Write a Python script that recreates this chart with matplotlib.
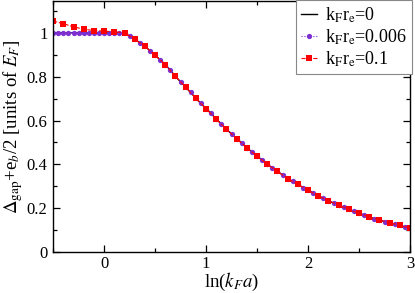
import matplotlib
matplotlib.use('Agg')
import matplotlib.pyplot as plt
from matplotlib.ticker import MultipleLocator

plt.rcParams['font.family'] = ['Liberation Serif', 'DejaVu Serif']
plt.rcParams['mathtext.fontset'] = 'stix'

# k_F r_e = 0.1 (red squares), step 0.1 in ln(k_F a)
x_red = [-0.5, -0.4, -0.3, -0.2, -0.1, 0.0, 0.1, 0.2, 0.3, 0.4, 0.5, 0.6, 0.7,
         0.8, 0.9, 1.0, 1.1, 1.2, 1.3, 1.4, 1.5, 1.6, 1.7, 1.8, 1.9, 2.0, 2.1,
         2.2, 2.3, 2.4, 2.5, 2.6, 2.7, 2.8, 2.9, 3.0]
y_red = [1.053, 1.041, 1.027, 1.016, 1.010, 1.007, 1.004, 1.0, 0.970, 0.938,
         0.897, 0.855, 0.801, 0.751, 0.701, 0.654, 0.606, 0.560, 0.518, 0.475,
         0.438, 0.401, 0.368, 0.336, 0.309, 0.283, 0.257, 0.235, 0.215, 0.195,
         0.177, 0.160, 0.147, 0.135, 0.123, 0.110]

# k_F r_e = 0.006 (violet circles) and k_F r_e = 0 (black line), step 0.05
x_vio = [-0.5, -0.45, -0.4, -0.35, -0.3, -0.25, -0.2, -0.15, -0.1, -0.05, 0.0,
         0.05, 0.1, 0.15, 0.2, 0.25, 0.3, 0.35, 0.4, 0.45, 0.5, 0.55, 0.6, 0.65,
         0.7, 0.75, 0.8, 0.85, 0.9, 0.95, 1.0, 1.05, 1.1, 1.15, 1.2, 1.25, 1.3,
         1.35, 1.4, 1.45, 1.5, 1.55, 1.6, 1.65, 1.7, 1.75, 1.8, 1.85, 1.9, 1.95,
         2.0, 2.05, 2.1, 2.15, 2.2, 2.25, 2.3, 2.35, 2.4, 2.45, 2.5, 2.55, 2.6,
         2.65, 2.7, 2.75, 2.8, 2.85, 2.9, 2.95, 3.0]
y_vio = [1.0, 1.0, 1.0, 1.0, 1.0, 1.0, 1.0, 1.0, 1.0, 1.0, 1.0,
         1.0, 1.0, 0.999, 0.997, 0.985, 0.970, 0.955, 0.938, 0.918, 0.897, 0.877,
         0.855, 0.829, 0.801, 0.776, 0.751, 0.728, 0.701, 0.678, 0.654, 0.633,
         0.606, 0.585, 0.560, 0.539, 0.518, 0.498, 0.475, 0.457, 0.438, 0.420,
         0.401, 0.385, 0.368, 0.353, 0.336, 0.323, 0.309, 0.295, 0.283, 0.270,
         0.257, 0.245, 0.235, 0.224, 0.215, 0.205, 0.195, 0.186, 0.177, 0.170,
         0.160, 0.153, 0.147, 0.139, 0.135, 0.127, 0.123, 0.115, 0.110]

labels = [r'k$_{\rm F}$r$_{\rm e}$=0', r'k$_{\rm F}$r$_{\rm e}$=0.006',
          r'k$_{\rm F}$r$_{\rm e}$=0.1']

fig = plt.figure(figsize=(4.15, 2.93), dpi=100)
ax = fig.add_axes([0.128, 0.139, 0.860, 0.858])

ax.plot(x_vio, y_vio, color='black', lw=1.0, label=labels[0])
ax.plot(x_vio, y_vio, color='#7d2fd0', ls=':', lw=0.8, marker='o',
        markersize=3.8, markeredgewidth=0, label=labels[1])
ax.plot(x_red, y_red, color='#ff0000', ls='--', lw=0.8, marker='s',
        markersize=3.9, markeredgewidth=0, label=labels[2])

ax.set_xlim(-0.5, 3.0)
ax.set_ylim(0, 1.145)
ax.xaxis.set_major_locator(MultipleLocator(1))
ax.xaxis.set_minor_locator(MultipleLocator(0.5))
ax.yaxis.set_major_locator(MultipleLocator(0.2))
ax.yaxis.set_minor_locator(MultipleLocator(0.1))
ax.tick_params(which='both', direction='in', top=True, right=True,
               labelsize=12, width=0.9)
ax.tick_params(which='major', length=5, pad=4)
ax.tick_params(axis='x', which='major', pad=3)
ax.tick_params(which='minor', length=3)
ax.set_yticks([0, 0.2, 0.4, 0.6, 0.8, 1.0])
ax.set_yticklabels(['0', '0.2', '0.4', '0.6', '0.8', '1'])
for s in ax.spines.values():
    s.set_linewidth(1.0)

ax.set_xlabel(r'ln($k_F a$)', fontsize=13.5, labelpad=-1)
ax.set_ylabel(r'$\Delta_{\rm gap}$+e$_b$/2 [units of $E_F$]', fontsize=13.5,
              labelpad=1)

leg = ax.legend(loc='upper right', bbox_to_anchor=(412 / 415, 1.0),
                bbox_transform=fig.transFigure, fontsize=13, frameon=True,
                fancybox=False, framealpha=1, edgecolor='#888888',
                borderaxespad=0, handlelength=0.85, handletextpad=0.45,
                borderpad=0.3, labelspacing=0.15, markerscale=1.0)
leg.get_frame().set_linewidth(0.8)

plt.savefig('out.png', dpi=100)
